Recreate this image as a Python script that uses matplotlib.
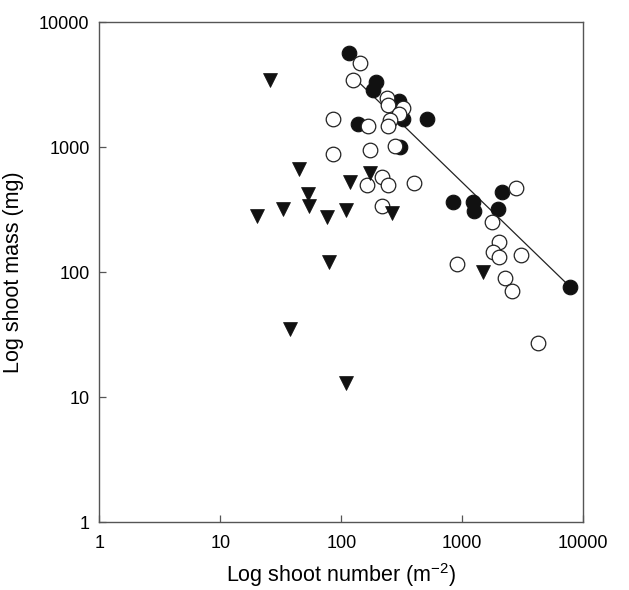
import matplotlib
matplotlib.use("Agg")
import matplotlib.pyplot as plt
from matplotlib.ticker import FixedLocator, FixedFormatter, NullLocator

plt.rcParams['font.family'] = ['Liberation Sans', 'DejaVu Sans']
plt.rcParams['mathtext.fontset'] = 'custom'
plt.rcParams['mathtext.rm'] = 'Liberation Sans'
plt.rcParams['mathtext.it'] = 'Liberation Sans'

# Filled circles
filled_x = [116.5, 192.4, 182.8, 299.9, 326.6, 515.6, 138.7, 308.5, 833, 1219, 1250, 2117, 1985, 7762]
filled_y = [5715, 3350, 2872, 2346, 1684, 1675, 1550, 1005, 363, 363, 309, 441.6, 320.9, 76.7]

# Open circles
open_x = [142.8, 125.7, 237.2, 244.5, 320.6, 302.7, 252.6, 244.5, 167.2, 85.9, 86.2, 172.7,
          277.8, 215.8, 161.6, 243.3, 400.3, 217, 2779, 1750, 2011, 1804, 2022, 3055, 909.6,
          2266, 2560, 4248]
open_y = [4753, 3454, 2466, 2180, 2051, 1847, 1653, 1494, 1494, 1678, 889, 960,
          1033, 584, 499, 499, 515, 342, 475, 254, 173.8, 146.2, 133.3, 136.8, 116.5,
          90.5, 71.3, 27.0]

# Triangles
tri_x = [25.9, 44.7, 119.1, 172.7, 53.1, 32.8, 54.1, 20.1, 75.7, 109.3, 261, 78.7, 37.7, 1492, 110]
tri_y = [3454, 667, 530.6, 619.5, 420.9, 322.7, 341, 282, 276.9, 316.6, 299.8, 120.9, 35.0, 101.1, 13.0]

# Regression line endpoints
line_x = [142.8, 7762]
line_y = [3245, 76.7]

tick_vals = [1, 10, 100, 1000, 10000]
tick_labels = ['1', '10', '100', '1000', '10000']

fig = plt.figure(figsize=(6.29, 5.90), dpi=100)
ax = fig.add_axes([0.1579, 0.1147, 0.7694, 0.8475])
ax.set_xscale('log')
ax.set_yscale('log')
ax.set_xlim(1, 10000)
ax.set_ylim(1, 10000)

ax.plot(line_x, line_y, color='#222222', lw=0.9, zorder=1)
ax.plot(filled_x, filled_y, 'o', ms=10.5, mfc='#111111', mec='#111111', mew=0.8, ls='none', zorder=2)
ax.plot(open_x, open_y, 'o', ms=10.5, mfc='white', mec='#222222', mew=0.9, ls='none', zorder=3)
ax.plot(tri_x, tri_y, 'v', ms=10.5, mfc='#111111', mec='#111111', mew=0.5, ls='none', zorder=4)

for a in (ax.xaxis, ax.yaxis):
    a.set_major_locator(FixedLocator(tick_vals))
    a.set_major_formatter(FixedFormatter(tick_labels))
    a.set_minor_locator(NullLocator())

ax.tick_params(direction='in', length=5, width=0.9, color='#555555', labelsize=13,
               top=False, right=False)
ax.tick_params(axis='x', pad=9)
ax.tick_params(axis='y', pad=7)
for s in ax.spines.values():
    s.set_color('#555555')
    s.set_linewidth(1.0)

ax.set_xlabel('Log shoot number (m$^{-2}$)', fontsize=15.5, labelpad=7)
ax.set_ylabel('Log shoot mass (mg)', fontsize=15.5, labelpad=11)

fig.savefig('out.png', dpi=100)
